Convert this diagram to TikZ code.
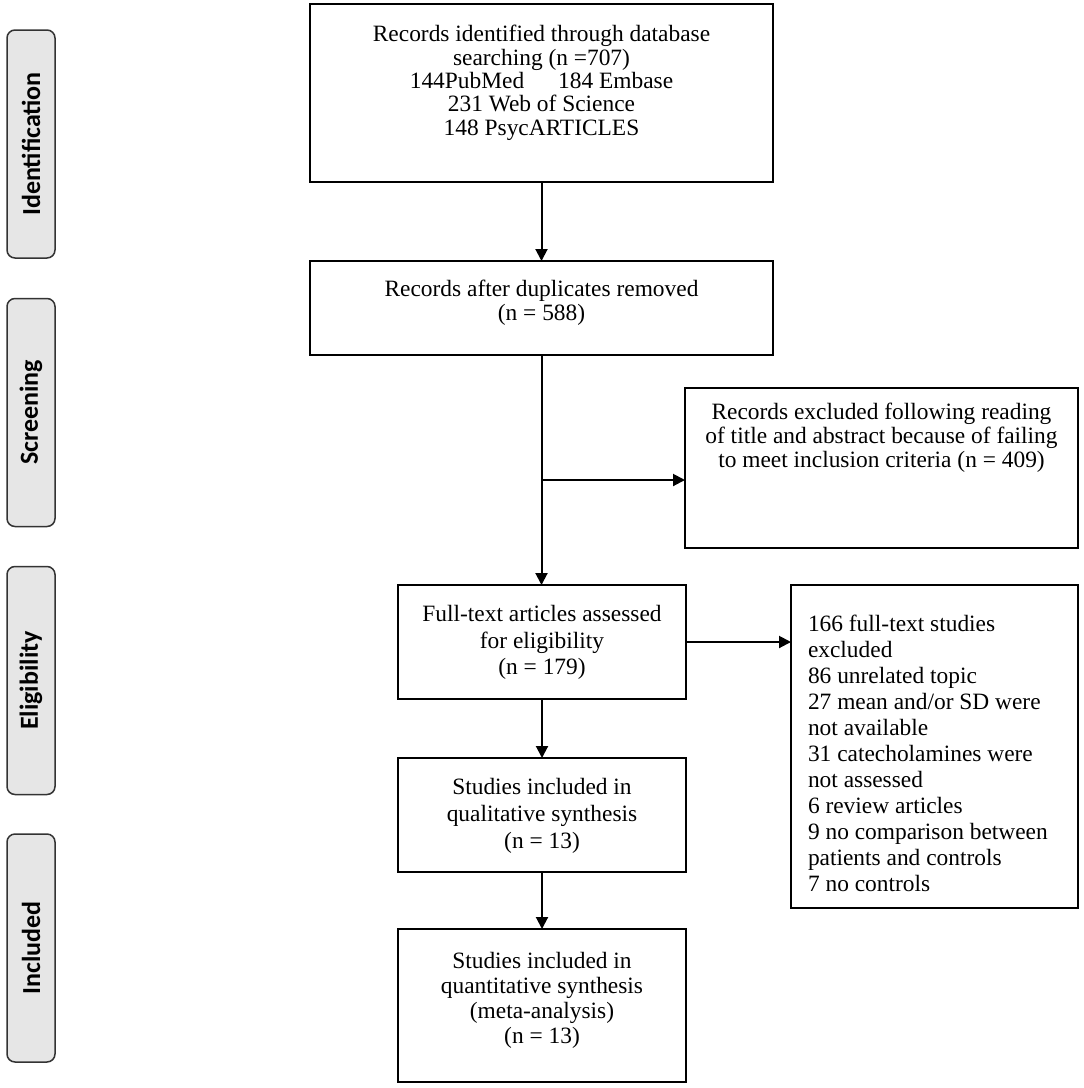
\documentclass[tikz,border=0pt]{standalone}
\usepackage{fontspec}
\setmainfont{Liberation Serif}
\newfontfamily\sidefont{Carlito}
\usetikzlibrary{arrows.meta,calc}
\definecolor{sidefill}{HTML}{E6E6E6}
\definecolor{sideline}{HTML}{333333}
\newcommand{\cbox}[5]{\parbox[c][#2][t]{#1}{\fontsize{23.4}{#4}\selectfont\centering\vspace*{#3}#5\par}}
\newcommand{\lbox}[5]{\parbox[c][#2][t]{#1}{\fontsize{23.4}{#4}\selectfont\raggedright\leftskip=17pt\vspace*{#3}#5\par}}
\begin{document}
\begin{tikzpicture}[x=1pt,y=-1pt,
  flowbox/.style={draw=black,line width=1.6pt,inner sep=0pt,outer sep=0pt},
  sidebox/.style={draw=sideline,fill=sidefill,line width=1.5pt,rounded corners=8pt,
    minimum width=48pt,minimum height=228pt,inner sep=0pt},
  sidetext/.style={font=\sidefont\bfseries\fontsize{26}{28}\selectfont,rotate=90},
  arr/.style={line width=2pt,-{Triangle[length=12pt,width=12pt]}}]
\useasboundingbox (0,0) rectangle (1084,1088);
% side labels
\node[sidebox] (sid) at (31,144) {};
\node[sidetext] (sidt) at (sid.center) {Identification};
\node[sidebox] (sscr) at (31,412.5) {};
\node[sidetext] (sscrt) at (sscr.center) {Screening};
\node[sidebox] (selg) at (31,680.5) {};
\node[sidetext] (selgt) at (selg.center) {Eligibility};
\node[sidebox] (sinc) at (31,948) {};
\node[sidetext] (sinct) at (sinc.center) {Included};
% flow boxes
\node[flowbox] (b1) at (541.5,93) {\cbox{463pt}{178pt}{21.5pt}{23.3pt}{Records identified through database\\searching (n =707)\\144PubMed\hspace{1.45em}184 Embase\\231 Web of Science\\148 PsycARTICLES}};
\node[flowbox] (b2) at (541.5,308) {\cbox{463pt}{94pt}{19.5pt}{24pt}{Records after duplicates removed\\(n = 588)}};
\node[flowbox] (b3) at (881.5,468) {\cbox{393pt}{160pt}{15.5pt}{24pt}{Records excluded following reading\\of title and abstract because of failing\\to meet inclusion criteria (n = 409)}};
\node[flowbox] (b4) at (542,642) {\cbox{288pt}{114pt}{20.5pt}{26.5pt}{Full-text articles assessed\\for eligibility\\(n = 179)}};
\node[flowbox] (b5) at (934.5,746.5) {\lbox{287pt}{323pt}{30.5pt}{26pt}{166 full-text studies\\excluded\\86 unrelated topic\\27 mean and/or SD were\\not available\\31 catecholamines were\\not assessed\\6 review articles\\9 no comparison between\\patients and controls\\7 no controls}};
\node[flowbox] (b6) at (542,815) {\cbox{288pt}{114pt}{20.5pt}{27pt}{Studies included in\\qualitative synthesis\\(n = 13)}};
\node[flowbox] (b7) at (542,1005.5) {\cbox{288pt}{153pt}{23.5pt}{25pt}{Studies included in\\quantitative synthesis\\(meta-analysis)\\(n = 13)}};
% connectors
\draw[arr] (b1.south) -- (b2.north);
\draw[arr] (b2.south) -- (b2.south |- b4.north);
\coordinate (br) at ($(b2.south)+(0,125)$);
\draw[arr] (br) -- (br -| b3.west);
\draw[arr] (b4.east) -- (b4.east -| b5.west);
\draw[arr] (b4.south) -- (b6.north);
\draw[arr] (b6.south) -- (b7.north);
\end{tikzpicture}
\end{document}
